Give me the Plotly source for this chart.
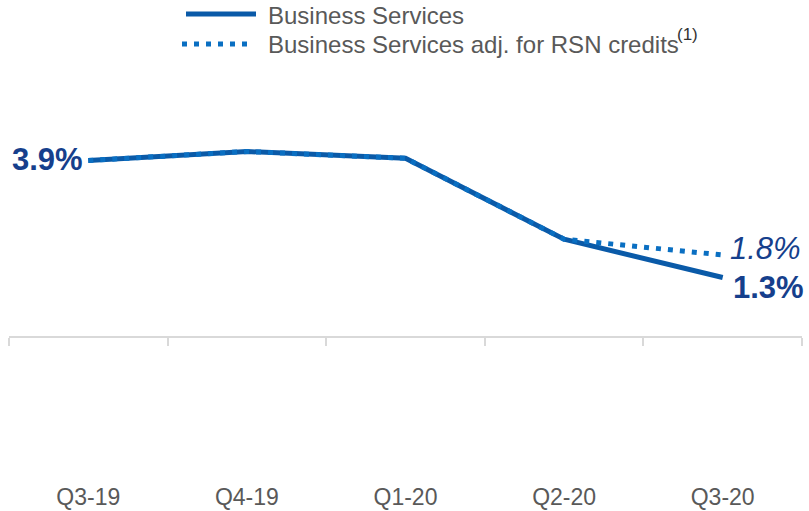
import plotly.graph_objects as go

# Quarterly growth, %
quarters = ["Q3-19", "Q4-19", "Q1-20", "Q2-20", "Q3-20"]
business_services = [3.9, 4.1, 3.95, 2.15, 1.3]
business_services_adj = [3.9, 4.1, 3.95, 2.15, 1.8]

series_names = ["Business Services", "Business Services adj. for RSN credits"]
footnote_mark = "(1)"

SOLID_BLUE = "#0a5aa8"
DOT_BLUE = "#0a6fc2"
LABEL_NAVY = "#163f8c"
GREY_TEXT = "#595959"
AXIS_GREY = "#d9d9d9"
FONT = "Liberation Sans, Arial, sans-serif"

W, H = 809, 511
M_L, M_R, M_T, M_B = 9, 7, 100, 175
PLOT_W = W - M_L - M_R
PLOT_H = H - M_T - M_B
PX_PER_UNIT = 45.0


def px_x(px):
    return (px - M_L) / PLOT_W


def px_y(py):
    return (H - M_B - py) / PLOT_H


fig = go.Figure()

fig.add_trace(go.Scatter(
    x=quarters, y=business_services, mode="lines", name=series_names[0],
    line=dict(color=SOLID_BLUE, width=5), showlegend=False, hoverinfo="skip",
))
fig.add_trace(go.Scatter(
    x=quarters, y=business_services_adj, mode="lines", name=series_names[1],
    line=dict(color=DOT_BLUE, width=5, dash="5px,7px"), showlegend=False,
    hoverinfo="skip",
))

# value labels at the ends of the series
fig.add_annotation(
    x=quarters[0], y=business_services[0], text=f"{business_services[0]:.1f}%",
    showarrow=False, xanchor="right", yanchor="middle", xshift=-3, yshift=1,
    font=dict(family=FONT, size=31, color=LABEL_NAVY, weight="bold"),
)
fig.add_annotation(
    x=quarters[-1], y=business_services[-1], text=f"{business_services[-1]:.1f}%",
    showarrow=False, xanchor="left", yanchor="middle", xshift=8, yshift=-10,
    font=dict(family=FONT, size=31, color=LABEL_NAVY, weight="bold"),
)
fig.add_annotation(
    x=quarters[-1], y=business_services_adj[-1], text=f"{business_services_adj[-1]:.1f}%",
    showarrow=False, xanchor="left", yanchor="middle", xshift=5, yshift=7,
    font=dict(family=FONT, size=31, color=LABEL_NAVY, style="italic"),
)

# legend drawn above the plot
fig.add_shape(type="line", xref="paper", yref="paper",
              x0=px_x(186), x1=px_x(256), y0=px_y(14), y1=px_y(14),
              line=dict(color=SOLID_BLUE, width=5))
fig.add_shape(type="line", xref="paper", yref="paper",
              x0=px_x(182), x1=px_x(253), y0=px_y(44), y1=px_y(44),
              line=dict(color=DOT_BLUE, width=5, dash="5px,7px"))
fig.add_annotation(
    xref="paper", yref="paper", x=px_x(266), y=px_y(15), text=series_names[0],
    showarrow=False, xanchor="left", yanchor="middle",
    font=dict(family=FONT, size=24, color=GREY_TEXT),
)
fig.add_annotation(
    xref="paper", yref="paper", x=px_x(266), y=px_y(45), text=series_names[1],
    showarrow=False, xanchor="left", yanchor="middle",
    font=dict(family=FONT, size=24, color=GREY_TEXT),
)
fig.add_annotation(
    xref="paper", yref="paper", x=px_x(675), y=px_y(34), text=footnote_mark,
    showarrow=False, xanchor="left", yanchor="middle",
    font=dict(family=FONT, size=17, color="#333333"),
)

fig.update_xaxes(
    type="category", range=[-0.5, len(quarters) - 0.5],
    showline=True, linecolor=AXIS_GREY, linewidth=2,
    ticks="outside", tickson="boundaries", ticklen=8, tickwidth=2,
    tickcolor=AXIS_GREY, showgrid=False, zeroline=False,
    tickfont=dict(family=FONT, size=23, color=GREY_TEXT),
    ticklabelstandoff=139, automargin=False,
)
fig.update_yaxes(
    range=[0, PLOT_H / PX_PER_UNIT], visible=False, showgrid=False,
    zeroline=False, automargin=False,
)

fig.update_layout(
    width=W, height=H,
    margin=dict(l=M_L, r=M_R, t=M_T, b=M_B, pad=0, autoexpand=False),
    plot_bgcolor="white", paper_bgcolor="white",
    showlegend=False,
)

fig.write_html("out.html", config={"displayModeBar": False})
